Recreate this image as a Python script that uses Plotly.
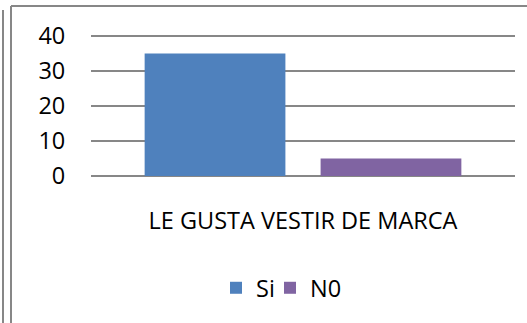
import plotly.graph_objects as go

# Survey: "Le gusta vestir de marca"
category = ["LE GUSTA VESTIR DE MARCA"]
series_names = ["Si", "N0"]
si_values = [35]
no_values = [5]
y_ticks = [0, 10, 20, 30, 40]
y_max = 40.6

colors = {"Si": "#4F81BD", "N0": "#8064A2"}
grey = "#878787"
font_family = "'Open Sans', 'Noto Sans', sans-serif"
fsize = 23.5

W, H = 527, 323
L, R, T, B = 91, 12, 34, 147
pw, ph = W - L - R, H - T - B


def px_x(x):
    return (x - L) / pw


def px_y(y):
    return (H - B - y) / ph


fig = go.Figure()
fig.add_trace(go.Bar(x=category, y=si_values, name=series_names[0],
                     marker=dict(color=colors["Si"], line=dict(width=0)),
                     legend="legend"))
fig.add_trace(go.Bar(x=category, y=no_values, name=series_names[1],
                     marker=dict(color=colors["N0"], line=dict(width=0)),
                     legend="legend2"))

# outer page rule and chart frame
frame = [
    (3, 10, 3, H + 2),
    (11, 6, 11, H + 2),
    (11, 6, W + 2, 6),
]
shapes = [
    dict(type="line", xref="paper", yref="paper",
         x0=px_x(a), y0=px_y(b), x1=px_x(c), y1=px_y(d),
         line=dict(color=grey, width=2), layer="above")
    for a, b, c, d in frame
]

legend_style = dict(orientation="h", xanchor="left", yanchor="middle",
                    y=px_y(288), font=dict(size=fsize), itemwidth=30,
                    bgcolor="rgba(0,0,0,0)")

fig.update_layout(
    width=W, height=H,
    margin=dict(l=L, r=R, t=T, b=B, autoexpand=False),
    paper_bgcolor="white", plot_bgcolor="white",
    barmode="group", bargap=0.17, bargroupgap=0.2,
    font=dict(family=font_family, size=fsize, color="#000000"),
    showlegend=True,
    legend=dict(x=px_x(216), **legend_style),
    legend2=dict(x=px_x(270), **legend_style),
    shapes=shapes,
)
fig.update_xaxes(showgrid=False, showline=False, zeroline=False,
                 ticks="outside", ticklen=0, ticklabelstandoff=24,
                 tickfont=dict(size=fsize))
fig.update_yaxes(range=[0, y_max], tickvals=y_ticks, showgrid=True,
                 gridcolor=grey, gridwidth=1.5, zeroline=True,
                 zerolinecolor=grey, zerolinewidth=1.5, showline=False,
                 ticks="outside", ticklen=0, ticklabelstandoff=20,
                 tickfont=dict(size=fsize))

fig.write_html("out.html")
